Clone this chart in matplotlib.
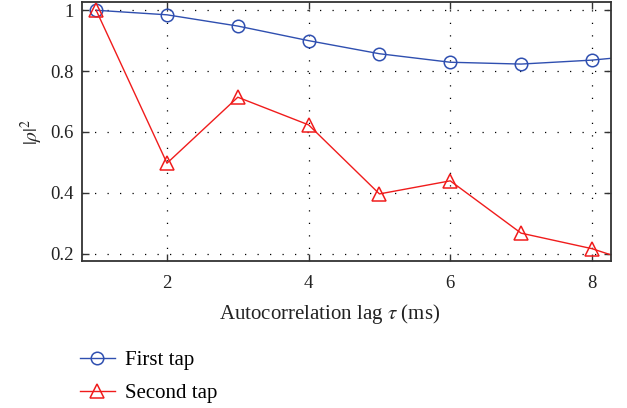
import matplotlib
matplotlib.use("Agg")
from matplotlib import pyplot as plt
from matplotlib.lines import Line2D

plt.rcParams['font.family'] = 'Liberation Serif'
plt.rcParams['mathtext.fontset'] = 'stix'

# data
lag = [1, 2, 3, 4, 5, 6, 7, 8, 9]
first_tap = [1.0, 0.985, 0.948, 0.900, 0.857, 0.829, 0.823, 0.836, 0.858]
second_tap = [1.0, 0.497, 0.714, 0.623, 0.396, 0.439, 0.267, 0.216, 0.14]
xticks = [2, 4, 6, 8]
yticks = [0.2, 0.4, 0.6, 0.8, 1.0]
yticklabels = ['0.2', '0.4', '0.6', '0.8', '1']

blue = '#2f4fb0'
red = '#f01c1c'
spine_col = '#333333'

fig = plt.figure(figsize=(6.27, 4.08), dpi=100)
ax = fig.add_axes([0.1308, 0.360, 0.8437, 0.635])

ax.plot(lag, first_tap, color=blue, linewidth=1.0, marker='o', markersize=9,
        markerfacecolor='none', markeredgecolor=blue, markeredgewidth=1.1)
ax.plot(lag, second_tap, color=red, linewidth=1.0, marker='^', markersize=10,
        markerfacecolor='none', markeredgecolor=red, markeredgewidth=1.1)

ax.set_xlim(0.80, 8.27)
ax.set_ylim(0.175, 1.027)
ax.set_xticks(xticks)
ax.set_yticks(yticks)
ax.set_yticklabels(yticklabels)

ax.grid(True, color='black', linestyle=(0, (1, 9)), linewidth=0.9)
ax.tick_params(direction='in', length=5, width=1, top=True, right=True,
               labelsize=13.5, colors=spine_col, labelcolor='#222222')
ax.tick_params(axis='x', pad=10)
ax.tick_params(axis='y', pad=6)
for s in ax.spines.values():
    s.set_color(spine_col)
    s.set_linewidth(1.3)

ax.set_xlabel(r'Autocorrelation lag $\tau$ (ms)', fontsize=15, color='#222222')
ax.xaxis.set_label_coords(0.468, -0.157)
ax.set_ylabel(r'$|\rho|^2$', fontsize=14, color='#222222', labelpad=4)

handles = [
    Line2D([], [], color=blue, linewidth=1.0, marker='o', markersize=9,
           markerfacecolor='none', markeredgewidth=1.1),
    Line2D([], [], color=red, linewidth=1.0, marker='^', markersize=10,
           markerfacecolor='none', markeredgewidth=1.1),
]
fig.legend(handles, ['First tap', 'Second tap'], loc='upper left',
           bbox_to_anchor=(0.127, 0.140), frameon=False, fontsize=15,
           handlelength=1.7, labelspacing=0.62, handletextpad=0.5,
           borderaxespad=0, borderpad=0)

fig.savefig('out.png', dpi=100)
